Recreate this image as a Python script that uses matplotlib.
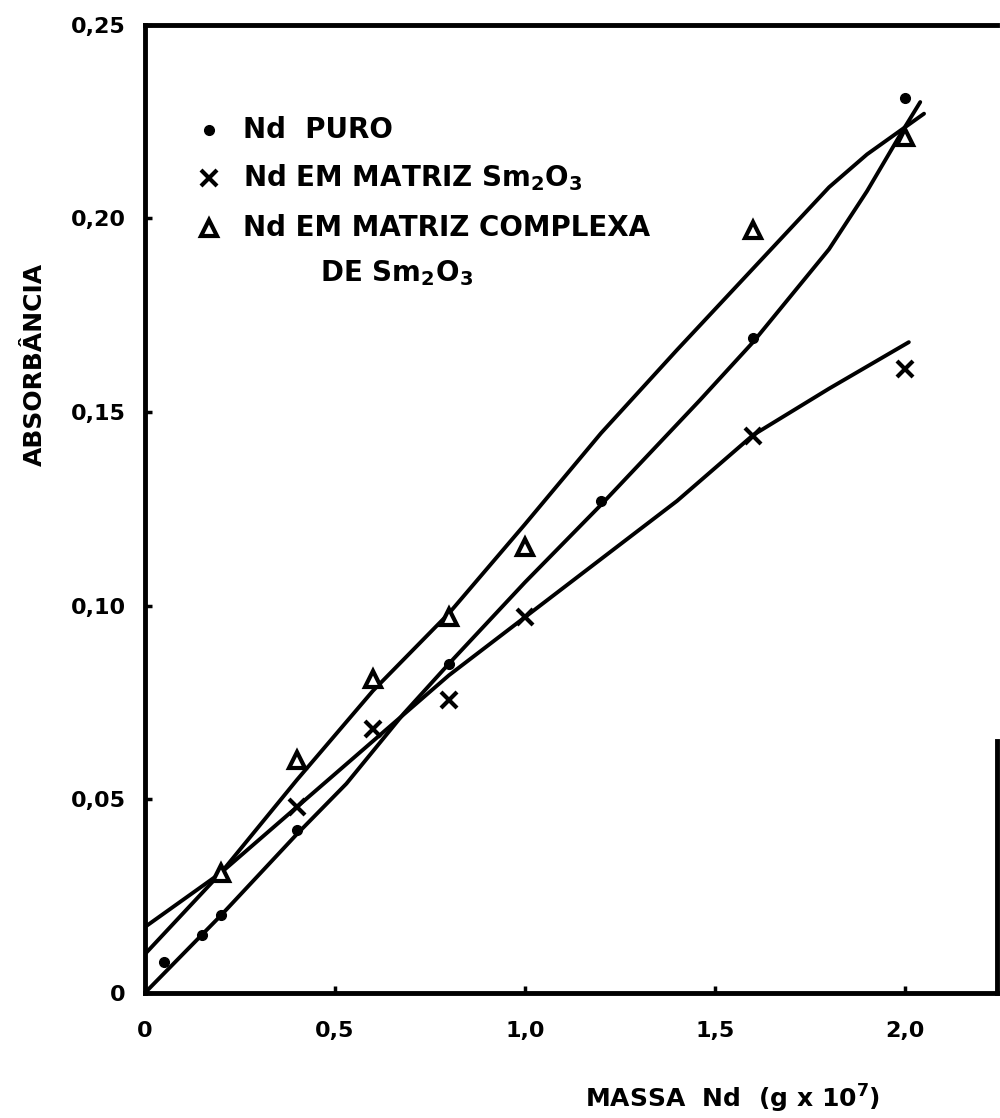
import matplotlib
matplotlib.use("Agg")
import matplotlib.pyplot as plt

# ---- data ----
puro_x = [0.05, 0.15, 0.2, 0.4, 0.8, 1.2, 1.6, 2.0]
puro_y = [0.008, 0.015, 0.020, 0.042, 0.085, 0.127, 0.169, 0.231]

sm_x = [0.4, 0.6, 0.8, 1.0, 1.6, 2.0]
sm_y = [0.048, 0.068, 0.0756, 0.097, 0.1438, 0.161]

cx_x = [0.2, 0.4, 0.6, 0.8, 1.0, 1.6, 2.0]
cx_y = [0.031, 0.060, 0.081, 0.097, 0.115, 0.197, 0.221]

# hand-drawn curves
puro_cx = [0.0, 0.2, 0.4, 0.53, 0.68, 0.8, 1.0, 1.2, 1.46, 1.6, 1.7, 1.8, 1.9, 1.99, 2.04]
puro_cy = [0.0, 0.020, 0.041, 0.054, 0.072, 0.085, 0.106, 0.126, 0.153, 0.168, 0.180, 0.192, 0.207, 0.222, 0.230]

sm_cx = [0.0, 0.2, 0.4, 0.6, 0.8, 1.0, 1.2, 1.4, 1.6, 1.8, 2.01]
sm_cy = [0.017, 0.031, 0.048, 0.065, 0.082, 0.097, 0.112, 0.127, 0.144, 0.156, 0.168]

cx_cx = [0.0, 0.2, 0.4, 0.6, 0.8, 1.0, 1.2, 1.4, 1.6, 1.8, 1.9, 2.05]
cx_cy = [0.010, 0.031, 0.055, 0.078, 0.098, 0.121, 0.1445, 0.166, 0.187, 0.208, 0.2165, 0.227]

xticks = [0.0, 0.5, 1.0, 1.5, 2.0]
xtick_labels = ["0", "0,5", "1,0", "1,5", "2,0"]
yticks = [0.0, 0.05, 0.10, 0.15, 0.20, 0.25]
ytick_labels = ["0", "0,05", "0,10", "0,15", "0,20", "0,25"]

legend_lines = ["Nd  PURO", r"Nd EM MATRIZ Sm$_2$O$_3$", "Nd EM MATRIZ COMPLEXA", r"DE Sm$_2$O$_3$"]

plt.rcParams['font.family'] = ['DejaVu Sans']
plt.rcParams['font.weight'] = 'bold'
plt.rcParams['mathtext.default'] = 'bf'

fig = plt.figure(figsize=(10, 11.18), dpi=100)
ax = fig.add_axes([0.145, 0.112, 0.852, 0.866])

lw = 2.8
ax.plot(puro_cx, puro_cy, color='black', lw=lw, solid_capstyle='round')
ax.plot(sm_cx, sm_cy, color='black', lw=lw, solid_capstyle='round')
ax.plot(cx_cx, cx_cy, color='black', lw=lw, solid_capstyle='round')

ax.plot(puro_x, puro_y, 'o', color='black', ms=7, ls='none')
ax.plot(sm_x, sm_y, 'x', color='black', ms=11, mew=3, ls='none')
ax.plot(cx_x, cx_y, '^', mfc='white', mec='black', ms=12, mew=3, ls='none')

ax.set_xlim(0, 2.242)
ax.set_ylim(0, 0.248)
ax.set_xticks(xticks)
ax.set_xticklabels(xtick_labels)
ax.set_yticks(yticks)
ax.set_yticklabels(ytick_labels)
ax.tick_params(direction='in', length=5, width=2.5, labelsize=16)
ax.tick_params(axis='x', pad=20)
ax.tick_params(axis='y', pad=14)
for lab in ax.get_xticklabels() + ax.get_yticklabels():
    lab.set_fontweight('bold')
for s in ax.spines.values():
    s.set_linewidth(3.5)
ax.spines['right'].set_bounds(0, 0.065)

ax.set_ylabel("ABSORBÂNCIA", fontsize=18, fontweight='bold')
ax.yaxis.set_label_coords(-0.115, 0.649)
ax.set_xlabel(r"MASSA  Nd  (g x 10$^7$)", fontsize=18, fontweight='bold')
ax.xaxis.set_label_coords(0.69, -0.093)

# legend (hand-lettered)
lx_mark = 0.075
lx_text = 0.115
ly = [0.8915, 0.842, 0.790, 0.743]
ax.plot([lx_mark], [ly[0]], 'o', color='black', ms=7, transform=ax.transAxes, clip_on=False)
ax.plot([lx_mark], [ly[1]], 'x', color='black', ms=11, mew=3, transform=ax.transAxes, clip_on=False)
ax.plot([lx_mark], [ly[2]], '^', mfc='white', mec='black', ms=12, mew=3, transform=ax.transAxes, clip_on=False)
for i, t in enumerate(legend_lines):
    x0 = lx_text if i < 3 else 0.205
    ax.text(x0, ly[i], t, transform=ax.transAxes, fontsize=20, fontweight='bold', va='center', ha='left')

fig.savefig("out.png", dpi=100, facecolor='white')
